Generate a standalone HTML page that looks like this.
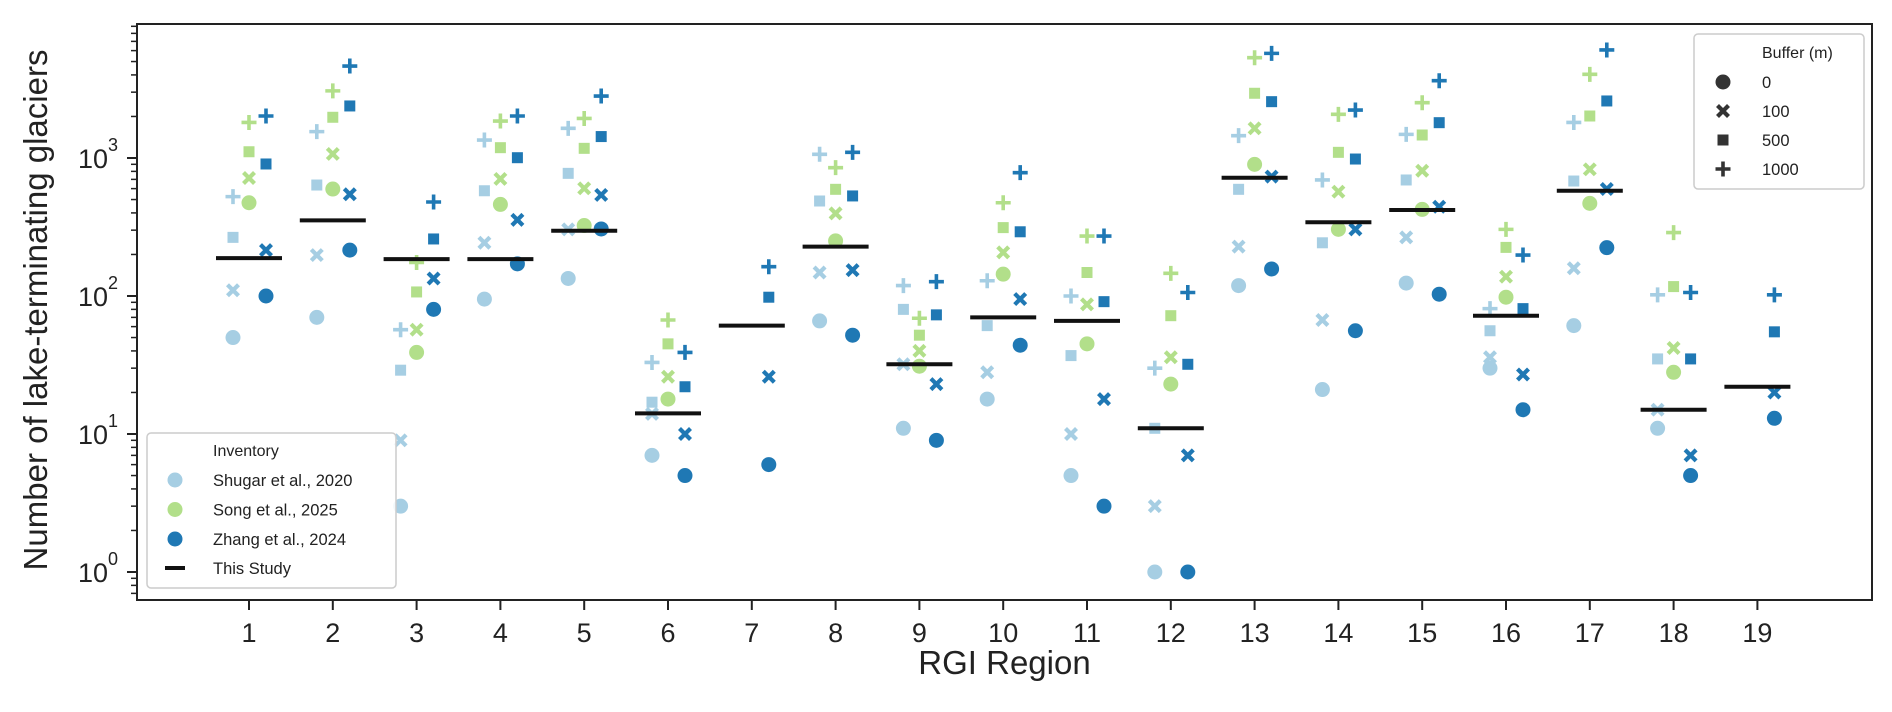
<!DOCTYPE html>
<html><head><meta charset="utf-8">
<style>
html,body{margin:0;padding:0;background:#fff;}
svg{display:block;font-family:"Liberation Sans",Arial,sans-serif;}
</style></head>
<body>
<svg id="chart" width="1892" height="712" viewBox="0 0 1892 712" xmlns="http://www.w3.org/2000/svg">
<g id="plot"></g>
</svg>
<script>
const regions = [1,2,3,4,5,6,7,8,9,10,11,12,13,14,15,16,17,18,19];
const yTickExps = [0,1,2,3];
const thisStudy = [188,353,185,185,297,14.1,61,228,32,70,66,11,720,342,420,72,579,15,22];
// Shugar et al., 2020
const shugar0    = [50,70,3,95,134,7,null,66,11,17.9,5,1,119,21,124,30,61,11,null];
const shugar100  = [110,198,9,243,304,14,null,148,32,28,10,3,228,67,266,36,159,15,null];
const shugar500  = [266,637,29,579,774,17,null,488,80,61,37,11,593,243,693,56,681,35,null];
const shugar1000 = [525,1553,57,1349,1641,33,null,1064,119,129,100,30,1452,693,1483,81,1810,102,null];
// Song et al., 2025
const song0    = [474,596,39,461,324,17.9,null,251,31,144,45,23,899,304,424,98,469,28,null];
const song100  = [716,1070,57,705,603,26,null,397,40,207,87,36,1641,570,809,138,828,42,null];
const song500  = [1110,1973,107,1188,1175,45,null,593,52,313,148,72,2945,1099,1468,225,2015,117,null];
const song1000 = [1810,3065,175,1853,1935,67,null,851,69,474,272,146,5330,2072,2516,304,4040,288,null];
// Zhang et al., 2024
const zhang0    = [100,215,80,171,306,5,6,52,9,44,3,1,157,56,103,15,224,5,13];
const zhang100  = [215,546,134,356,540,10,26,154,23,95,17.9,7,733,304,443,27,596,7,20];
const zhang500  = [905,2383,259,1005,1430,22,98,531,73,292,91,32,2560,983,1803,81,2590,35,55];
const zhang1000 = [2015,4640,480,2015,2812,39,163,1099,127,783,272,106,5730,2227,3631,198,6065,106,102];

const NS='http://www.w3.org/2000/svg';
const L=137,R=1872,T=24,B=600;
const X0=249,DX=83.8;
function xPos(i){return X0+i*DX;}
function yPos(v){return 572-138*Math.log10(v);}
const g=document.getElementById('plot');
function mk(tag,attrs,parent){const e=document.createElementNS(NS,tag);for(const k in attrs)e.setAttribute(k,attrs[k]);(parent||g).appendChild(e);return e;}

const C={shugar:'#a6cee3',song:'#b2df8a',zhang:'#1f78b4'};
function marker(shape,cx,cy,col,parent){
  let e;
  if(shape==='o'){e=mk('circle',{cx:cx,cy:cy,r:7.5,fill:col},parent);}
  else if(shape==='s'){e=mk('rect',{x:cx-5.5,y:cy-5.5,width:11,height:11,fill:col},parent);}
  else if(shape==='x'){e=mk('path',{d:`M${cx-5.5},${cy-5.5}L${cx+5.5},${cy+5.5}M${cx+5.5},${cy-5.5}L${cx-5.5},${cy+5.5}`,stroke:col,'stroke-width':4.2,fill:'none'},parent);}
  else {e=mk('path',{d:`M${cx-7.5},${cy}L${cx+7.5},${cy}M${cx},${cy-7.5}L${cx},${cy+7.5}`,stroke:col,'stroke-width':3.6,fill:'none'},parent);}
  return e;
}

const ay=mk('g',{});


for(let d=-1;d<=3;d++){
  for(let m=1;m<=9;m++){
    const v=m*Math.pow(10,d);
    const y=yPos(v);
    if(y<T||y>B)continue;
    const len=m===1?10:6;
    mk('line',{x1:L-len,x2:L,y1:y,y2:y,stroke:'#222','stroke-width':m===1?2:1.5},ay);
  }
}
yTickExps.forEach(e=>{
  const y=yPos(Math.pow(10,e));
  const t=mk('text',{x:L-19,y:y+10,'text-anchor':'end','font-size':27,fill:'#222'},ay);
  
  
  t.textContent='10';
  const s=mk('tspan',{dy:-17,'font-size':18},t);
  s.textContent=String(e);
});
const ax=mk('g',{});


regions.forEach((r,i)=>{
  const x=xPos(i);
  mk('line',{x1:x,x2:x,y1:B,y2:B+10,stroke:'#222','stroke-width':2},ax);
  const t=mk('text',{x:x,y:B+42,'text-anchor':'middle','font-size':27,fill:'#222'},ax);
  
  
  t.textContent=String(r);
});

const series=[
  ['shugar',-16,[shugar0,shugar100,shugar500,shugar1000]],
  ['song',0,[song0,song100,song500,song1000]],
  ['zhang',17,[zhang0,zhang100,zhang500,zhang1000]]
];
const shapes=['o','x','s','+'];
const marks=mk('g',{});


series.forEach(([name,off,arrs])=>{
  arrs.forEach((arr,bi)=>{
    arr.forEach((v,i)=>{
      if(v==null)return;
      const e=marker(shapes[bi],xPos(i)+off,yPos(v),C[name],marks);
      
      
    });
  });
});
thisStudy.forEach((v,i)=>{
  const e=mk('line',{x1:xPos(i)-33,x2:xPos(i)+33,y1:yPos(v),y2:yPos(v),stroke:'#111','stroke-width':4});
  
  
});
const fr=mk('rect',{x:L,y:T,width:R-L,height:B-T,fill:'none',stroke:'#222','stroke-width':2});


const xt=mk('text',{x:(L+R)/2,y:674,'text-anchor':'middle','font-size':33,fill:'#222'});


xt.textContent='RGI Region';
const yt=mk('text',{x:0,y:0,'text-anchor':'middle','font-size':33,fill:'#222',transform:'translate(47,310) rotate(-90)'});


yt.textContent='Number of lake-terminating glaciers';

const lg=mk('g',{});


mk('rect',{x:147,y:433,width:249,height:155,rx:4,fill:'#fff','fill-opacity':0.85,stroke:'#ccc','stroke-width':1.5},lg);
const lt=mk('text',{x:213,y:456,'font-size':16,fill:'#222'},lg);lt.textContent='Inventory';
[['Shugar et al., 2020',C.shugar],['Song et al., 2025',C.song],['Zhang et al., 2024',C.zhang]].forEach(([n,c],k)=>{
  const y=480+k*29.5;
  const m=mk('circle',{cx:175,cy:y,r:7.5,fill:c},lg);
  
  
  const t=mk('text',{x:213,y:y+6,'font-size':16.5,fill:'#222'},lg);
  
  
  t.textContent=n;
});
mk('line',{x1:165,x2:185,y1:568,y2:568,stroke:'#111','stroke-width':4},lg);
const ts=mk('text',{x:213,y:574,'font-size':16.5,fill:'#222'},lg);ts.textContent='This Study';

const bg=mk('g',{});


mk('rect',{x:1694,y:34,width:170,height:155,rx:4,fill:'#fff','fill-opacity':0.85,stroke:'#ccc','stroke-width':1.5},bg);
const bt=mk('text',{x:1762,y:58,'font-size':16,fill:'#222'},bg);bt.textContent='Buffer (m)';
['0','100','500','1000'].forEach((n,k)=>{
  const y=82+k*29;
  const m=marker(shapes[k],1723,y,'#333',bg);
  
  
  const t=mk('text',{x:1762,y:y+6,'font-size':16.5,fill:'#222'},bg);
  
  
  t.textContent=n;
});
</script>
</body></html>
